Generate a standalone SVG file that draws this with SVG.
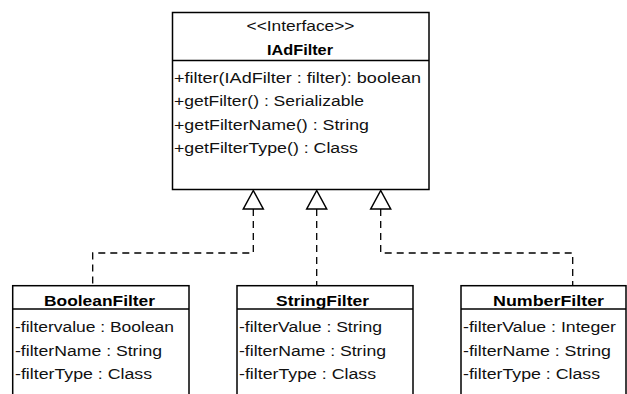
<svg xmlns="http://www.w3.org/2000/svg" width="627" height="394" viewBox="0 0 627 394">
  <style>
    .box { fill: #fff; stroke: #000; stroke-width: 1.5; }
    .sep { stroke: #000; stroke-width: 1.5; }
    .txt { font-family: "Liberation Sans", Arial, sans-serif; font-size: 14px; fill: #111; }
    .ttl { font-family: "Liberation Sans", Arial, sans-serif; font-size: 14px; font-weight: bold; fill: #000; text-anchor: middle; }
    .dash { fill: none; stroke: #000; stroke-width: 1.3; stroke-dasharray: 7 5; }
    .tri { fill: #fff; stroke: #000; stroke-width: 1.5; stroke-linejoin: miter; }
  </style>

  <!-- realization connectors -->
  <g id="connectors">
    <path class="dash" d="M253.3,209 V253 H92.7 V286"/>
    <path class="dash" d="M316.7,209 V286"/>
    <path class="dash" d="M380.7,209 V253 H572.7 V286"/>
    <polygon class="tri" points="253.3,190.5 243.3,209 263.3,209"/>
    <polygon class="tri" points="316.7,190.5 306.7,209 326.7,209"/>
    <polygon class="tri" points="380.7,190.5 370.7,209 390.7,209"/>
  </g>

  <!-- interface -->
  <g id="IAdFilter">
    <rect class="box" x="172.5" y="12.5" width="256.5" height="177"/>
    <line class="sep" x1="172.5" y1="60.5" x2="429" y2="60.5"/>
    <text class="txt" x="300.5" y="31" text-anchor="middle" textLength="108" lengthAdjust="spacingAndGlyphs">&lt;&lt;Interface&gt;&gt;</text>
    <text class="ttl" x="300" y="55" textLength="66" lengthAdjust="spacingAndGlyphs">IAdFilter</text>
    <text class="txt" x="174" y="82.5" textLength="247" lengthAdjust="spacingAndGlyphs">+filter(IAdFilter : filter): boolean</text>
    <text class="txt" x="174" y="106" textLength="190" lengthAdjust="spacingAndGlyphs">+getFilter() : Serializable</text>
    <text class="txt" x="174" y="129.5" textLength="195" lengthAdjust="spacingAndGlyphs">+getFilterName() : String</text>
    <text class="txt" x="174" y="153" textLength="184" lengthAdjust="spacingAndGlyphs">+getFilterType() : Class</text>
  </g>

  <g id="BooleanFilter">
    <rect class="box" x="12.7" y="285.7" width="176.3" height="120"/>
    <line class="sep" x1="12.7" y1="309" x2="189" y2="309"/>
    <text class="ttl" x="99.5" y="305.5" textLength="111" lengthAdjust="spacingAndGlyphs">BooleanFilter</text>
    <text class="txt" x="15" y="331.5" textLength="159" lengthAdjust="spacingAndGlyphs">-filtervalue : Boolean</text>
    <text class="txt" x="15" y="355.5" textLength="147" lengthAdjust="spacingAndGlyphs">-filterName : String</text>
    <text class="txt" x="15" y="379" textLength="137" lengthAdjust="spacingAndGlyphs">-filterType : Class</text>
  </g>

  <g id="StringFilter">
    <rect class="box" x="237" y="285.7" width="176" height="120"/>
    <line class="sep" x1="237" y1="309" x2="413" y2="309"/>
    <text class="ttl" x="322.5" y="305.5" textLength="93" lengthAdjust="spacingAndGlyphs">StringFilter</text>
    <text class="txt" x="239" y="331.5" textLength="143" lengthAdjust="spacingAndGlyphs">-filterValue : String</text>
    <text class="txt" x="239" y="355.5" textLength="147" lengthAdjust="spacingAndGlyphs">-filterName : String</text>
    <text class="txt" x="239" y="379" textLength="137" lengthAdjust="spacingAndGlyphs">-filterType : Class</text>
  </g>

  <g id="NumberFilter">
    <rect class="box" x="461" y="285.7" width="165" height="120"/>
    <line class="sep" x1="461" y1="309" x2="626" y2="309"/>
    <text class="ttl" x="548.5" y="305.5" textLength="111" lengthAdjust="spacingAndGlyphs">NumberFilter</text>
    <text class="txt" x="463" y="331.5" textLength="153" lengthAdjust="spacingAndGlyphs">-filterValue : Integer</text>
    <text class="txt" x="463" y="355.5" textLength="148" lengthAdjust="spacingAndGlyphs">-filterName : String</text>
    <text class="txt" x="463" y="379" textLength="137" lengthAdjust="spacingAndGlyphs">-filterType : Class</text>
  </g>
</svg>
